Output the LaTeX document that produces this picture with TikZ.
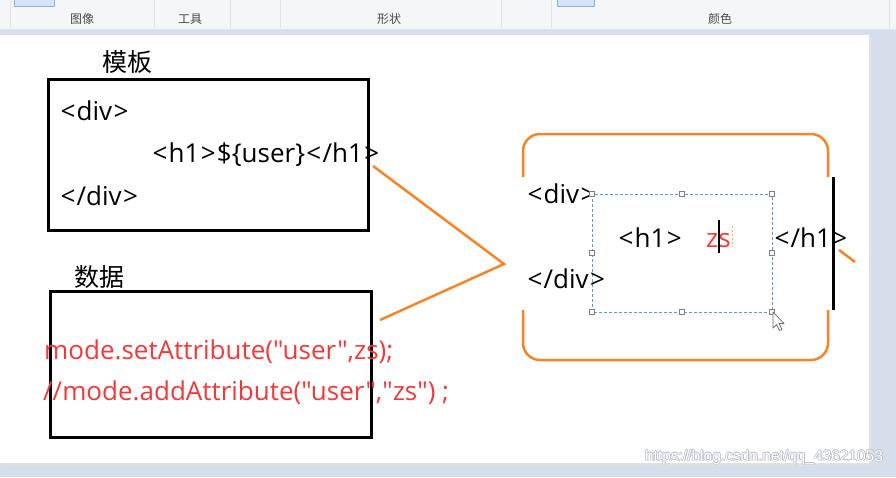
\documentclass[tikz,border=0pt]{standalone}
\usepackage{fontspec}
\setmainfont{Open Sans}[Ligatures=TeXOff]
\newfontfamily\cjk{Noto Sans CJK SC}
\newfontfamily\wmfont{Liberation Sans}
\newcommand{\dq}{\symbol{34}}
\newcommand{\lt}{\kern1.3pt<\kern1.3pt}
\newcommand{\gt}{\kern1.3pt>\kern1.3pt}
\definecolor{frame}{HTML}{D6DDEB}
\definecolor{toolbar}{HTML}{F5F6F8}
\definecolor{sepc}{HTML}{E0E3E8}
\definecolor{btn}{HTML}{D3E3F8}
\definecolor{btnb}{HTML}{8DB2E3}
\definecolor{redtxt}{HTML}{EE3B3B}
\definecolor{orng}{HTML}{F5852A}
\definecolor{selblue}{HTML}{5B9BD5}
\definecolor{tbtext}{HTML}{4A4A4A}
\definecolor{wmshadow}{HTML}{B4B9C4}
\begin{document}
\begin{tikzpicture}[x=1pt,y=-1pt,
  code/.style={font=\fontsize{26}{31}\selectfont, inner sep=0pt, anchor=base west},
  redcode/.style={code, text=redtxt},
  cjklabel/.style={font=\cjk\fontsize{25}{30}\selectfont, inner sep=0pt},
  tblabel/.style={font=\cjk\fontsize{12}{14}\selectfont, text=tbtext, inner sep=0pt},
  boxframe/.style={draw=black, line width=3pt, inner sep=0pt},
  orangeline/.style={draw=orng, line width=2.5pt},
  handle/.style={draw=gray, fill=white, line width=0.6pt, minimum size=5pt, inner sep=0pt},
  wm/.style={font=\wmfont\fontsize{15.5}{18}\selectfont, inner sep=0pt}]
\useasboundingbox (0,0) rectangle (896,477);
% window chrome
\fill[frame] (0,0) rectangle (896,477);
\fill[toolbar] (0,0) rectangle (896,29);
\draw[sepc, line width=0.8pt] (0,29) -- (896,29);
\foreach \sx in {10,154,230,280,501,551,889} \draw[sepc, line width=0.8pt] (\sx,0) -- (\sx,28);
\draw[btnb, fill=btn, line width=0.6pt] (14,-1) rectangle (54,6);
\draw[btnb, fill=btn, line width=0.6pt] (557,-1) rectangle (594,6);
\node[tblabel] (tb1) at (82,19) {图像};
\node[tblabel] (tb2) at (190,19) {工具};
\node[tblabel] (tb3) at (389,19) {形状};
\node[tblabel] (tb4) at (720,19) {颜色};
% canvas with slight shadow
\fill[black!12] (3,38) rectangle (872,466);
\fill[white] (0,35) rectangle (869,463);
% left boxes
\node[boxframe, minimum width=320pt, minimum height=151pt, anchor=north west] (tpl) at (47,78) {};
\node[boxframe, minimum width=321pt, minimum height=146pt, anchor=north west] (data) at (49,290) {};
\node[cjklabel] (tpllabel) at (127,62) {模板};
\node[cjklabel] (datalabel) at (99,277) {数据};
\node[code] (d1) at (59,120) {\lt div\gt};
\node[code] (h1) at (151,162) {\lt h1\gt\$\{user\}\lt/h1\gt};
\node[code] (d2) at (59,205) {\lt/div\gt};
\node[redcode] (r1) at (44,359) {mode.setAttribute(\dq user\dq,zs);};
\node[redcode] (r2) at (43,400) {//mode.addAttribute(\dq user\dq,\dq zs\dq) ;};
% orange connectors
\coordinate (c1) at (373,166);
\coordinate (apex) at (504,264);
\coordinate (c2) at (380,320);
\draw[orangeline] (c1) -- (apex) -- (c2);
% result frame
\draw[orangeline, rounded corners=17pt] (523,177) -- (523,134) -- (828,134) -- (828,177);
\draw[orangeline, rounded corners=17pt] (523,310) -- (523,360) -- (828,360) -- (828,310);
\draw[black, line width=3pt] (833,177) -- (833,310);
\draw[orangeline] (839,250) -- (855,262);
% selection rectangle
\draw[selblue, line width=0.8pt, dash pattern=on 3pt off 2pt] (592,194) rectangle (772,312);
\node[code] (rd1) at (526,203) {\lt div\gt};
\node[code] (rd2) at (526,288) {\lt/div\gt};
\node[code] (rh1) at (617,247) {\lt h1\gt};
\node[redcode] (zs) at (706,247) {zs};
\node[code] (rh2) at (773,247) {\lt/h1\gt};
\draw[black, line width=2.5pt] (719,220) -- (719,253);
\draw[orng!70, line width=0.7pt, dash pattern=on 1.5pt off 2.5pt] (732,226) -- (732,247);
\foreach \hx/\hy in {592/194,682/194,772/194,592/253,772/253,592/312,682/312,772/312}
  \node[handle] at (\hx,\hy) {};
% mouse pointer
\draw[gray!80!black, fill=white, line width=0.7pt, line join=round]
  (773,312) -- (773,328) -- (776.5,324.5) -- (779.5,330.5) -- (782,329.5) -- (779,323.5) -- (784,323.5) -- cycle;
% watermark
\foreach \ox/\oy in {-0.7/0,0.7/0,0/-0.7,0/0.7,0.8/0.8}
  \node[wm, text=wmshadow] at (764+\ox,457+\oy) {https://blog.csdn.net/qq\_43621053};
\node[wm, text=white] (wmark) at (764,457) {https://blog.csdn.net/qq\_43621053};
\end{tikzpicture}
\end{document}
